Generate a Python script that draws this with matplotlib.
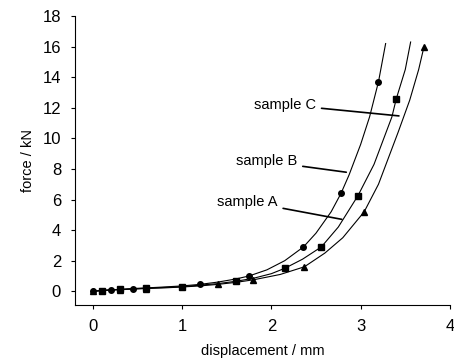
import matplotlib
matplotlib.use("Agg")
import matplotlib.pyplot as plt

plt.rcParams['font.family'] = ['Liberation Sans', 'DejaVu Sans']

# sample B (left curve, circles)
b_x = [0, 0.1, 0.2, 0.3, 0.45, 0.6, 0.8, 1.0, 1.2, 1.4, 1.6, 1.75, 1.95, 2.15, 2.36, 2.5, 2.67, 2.78, 2.87, 3.0, 3.1, 3.2, 3.28]
b_y = [0, 0.05, 0.1, 0.12, 0.18, 0.22, 0.28, 0.35, 0.45, 0.6, 0.8, 1.0, 1.4, 2.0, 2.9, 3.8, 5.2, 6.4, 7.6, 9.6, 11.4, 13.7, 16.2]
b_mark = [0, 2, 4, 8, 11, 14, 17, 21]

# sample A (middle curve, squares)
a_x = [0, 0.1, 0.2, 0.3, 0.45, 0.6, 0.8, 1.0, 1.2, 1.4, 1.6, 1.8, 2.0, 2.15, 2.35, 2.56, 2.75, 2.97, 3.15, 3.35, 3.4, 3.5, 3.56]
a_y = [0, 0.05, 0.08, 0.12, 0.16, 0.2, 0.25, 0.3, 0.4, 0.5, 0.65, 0.85, 1.15, 1.5, 2.1, 2.9, 4.2, 6.25, 8.3, 11.4, 12.6, 14.5, 16.3]
a_mark = [1, 3, 5, 7, 10, 13, 15, 17, 20]

# sample C (right curve, triangles)
c_x = [0, 0.1, 0.2, 0.3, 0.45, 0.6, 0.8, 1.0, 1.2, 1.4, 1.6, 1.8, 2.1, 2.37, 2.6, 2.8, 3.04, 3.2, 3.42, 3.55, 3.65, 3.71]
c_y = [0, 0.04, 0.08, 0.1, 0.14, 0.18, 0.22, 0.28, 0.35, 0.45, 0.58, 0.75, 1.1, 1.6, 2.5, 3.5, 5.2, 7.0, 10.4, 12.5, 14.5, 16.0]
c_mark = [0, 3, 5, 9, 11, 13, 16, 21]

fig = plt.figure(figsize=(4.54, 3.64), dpi=100)
ax = fig.add_axes([0.165, 0.162, 0.826, 0.794])

lkw = dict(color='black', linewidth=0.8, markersize=4)
ax.plot(b_x, b_y, marker='o', markevery=b_mark, **lkw)
ax.plot(a_x, a_y, marker='s', markevery=a_mark, **lkw)
ax.plot(c_x, c_y, marker='^', markevery=c_mark, **lkw)

ax.set_xlim(-0.2, 4.0)
ax.set_ylim(-0.9, 18)
ax.set_xticks([0, 1, 2, 3, 4])
ax.set_yticks(range(0, 19, 2))
ax.spines['top'].set_visible(False)
ax.spines['right'].set_visible(False)
ax.tick_params(direction='out', length=3, width=0.8, labelsize=12, pad=7)
ax.set_xlabel('displacement / mm', fontsize=10.5, labelpad=7)
ax.set_ylabel('force / kN', fontsize=10.5, labelpad=5)

akw = dict(arrowprops=dict(arrowstyle='-', color='black', lw=1.2),
           fontsize=10.5, ha='right', va='center')
ax.annotate('sample C', xy=(3.46, 11.45), xytext=(2.50, 12.2), **akw)
ax.annotate('sample B', xy=(2.87, 7.76), xytext=(2.29, 8.49), **akw)
ax.annotate('sample A', xy=(2.82, 4.67), xytext=(2.07, 5.86), **akw)

fig.savefig('out.png', dpi=100)
